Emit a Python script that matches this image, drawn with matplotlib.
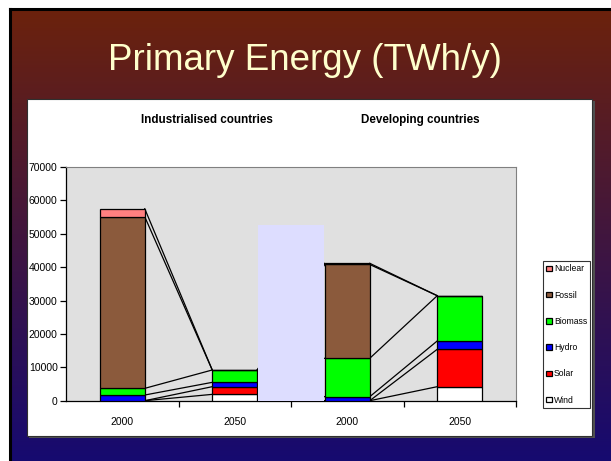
import numpy as np
import matplotlib.pyplot as plt
from matplotlib.patches import Rectangle
from matplotlib.lines import Line2D

plt.rcParams['font.family'] = ['Liberation Sans Narrow', 'Liberation Sans', 'DejaVu Sans']

years = ['2000', '2050', '2000', '2050']
sources = ['Wind', 'Solar', 'Hydro', 'Biomass', 'Fossil', 'Nuclear']
colors = ['#FFFFFF', '#FF0000', '#0000FF', '#00FF00', '#8B5A3C', '#FF8080']

# TWh/y per source, bottom to top; columns follow `years`
wind = [0, 1900, 0, 4200]
solar = [0, 2300, 0, 11200]
hydro = [1700, 1300, 1200, 2500]
biomass = [2000, 3700, 11500, 13550]
fossil = [51400, 0, 28100, 0]
nuclear = [2400, 0, 350, 0]
separator = 52700

W, H = 611, 461
fig = plt.figure(figsize=(W / 100, H / 100), dpi=100, facecolor='white')

# slide background gradient
bg = fig.add_axes([9 / W, 0, 1 - 9 / W, 1 - 9 / H], zorder=-5)
top = np.array([108, 34, 12]) / 255
bot = np.array([22, 10, 112]) / 255
t = np.linspace(0, 1, 256)[:, None]
grad = (top * (1 - t) + bot * t)[:, None, :]
bg.imshow(grad, aspect='auto', extent=[0, 1, 0, 1])
bg.axis('off')
fig.add_artist(Line2D([9.5 / W, 9.5 / W], [0, 1 - 9.5 / H], color='black', lw=2.2, zorder=-4))
fig.add_artist(Line2D([9.5 / W, 1], [1 - 9.5 / H, 1 - 9.5 / H], color='black', lw=2.2, zorder=-4))

fig.text(305 / W, 1 - 61 / H, 'Primary Energy (TWh/y)', ha='center', va='center',
         fontsize=26.5, color='#FFFFCC', family=['Liberation Sans', 'DejaVu Sans'])

# white chart panel with shadow
fig.add_artist(Rectangle((29 / W, (H - 438) / H), 566 / W, 337 / H, zorder=-3,
                         transform=fig.transFigure, facecolor='#505050', edgecolor='none'))
fig.add_artist(Rectangle((27 / W, (H - 436) / H), 565 / W, 337 / H, zorder=-2,
                         transform=fig.transFigure, facecolor='white', edgecolor='#303030', lw=0.8))

fig.text(207 / W, 1 - 120 / H, 'Industrialised countries', ha='center', va='center',
         fontsize=8.4, fontweight='bold')
fig.text(420 / W, 1 - 120 / H, 'Developing countries', ha='center', va='center',
         fontsize=8.4, fontweight='bold')

ax = fig.add_axes([66 / W, 60.3 / H, 450 / W, 233.7 / H])
ax.set_facecolor('#E0E0E0')
x = np.arange(len(years))
width = 0.4

data = np.array([wind, solar, hydro, biomass, fossil, nuclear])
bottoms = np.vstack([np.zeros(len(years)), data.cumsum(axis=0)[:-1]])
tops = data.cumsum(axis=0)

handles = []
for name, vals, b, c in zip(sources, data, bottoms, colors):
    h = ax.bar(x, vals, width, bottom=b, color=c, edgecolor='black', lw=0.9,
               label=name, zorder=3)
    handles.append(h)

# series lines between adjacent bars
for level in tops:
    for i in range(len(years) - 1):
        ax.plot([x[i] + width / 2, x[i + 1] - width / 2], [level[i], level[i + 1]],
                color='black', lw=0.9, zorder=2)

ax.bar(1.5, separator, 0.58, color='#DDDDFF', edgecolor='none', zorder=4)

ax.set_xlim(-0.5, 3.5)
ax.set_ylim(0, 70000)
ax.set_yticks(np.arange(0, 70001, 10000))
ax.set_xticks(x)
ax.set_xticklabels(years)
ax.set_xticks([0.5, 1.5, 2.5, 3.5], minor=True)
ax.tick_params(axis='x', which='major', length=0, pad=12, labelsize=7.5)
ax.tick_params(axis='x', which='minor', length=4, direction='out', width=0.9)
ax.tick_params(axis='y', length=4, direction='out', width=0.9, labelsize=7.5, pad=2)
for s in ['top', 'right']:
    ax.spines[s].set_color('#808080')
    ax.spines[s].set_linewidth(0.8)
for s in ['left', 'bottom']:
    ax.spines[s].set_color('black')
    ax.spines[s].set_linewidth(0.9)

leg = ax.legend(handles[::-1], sources[::-1], loc='upper left',
                bbox_to_anchor=(543 / W, 1 - 261 / H), bbox_transform=fig.transFigure,
                fontsize=6.2, handlelength=0.6, handleheight=0.6, handletextpad=0.25,
                labelspacing=2.0, borderpad=0.4, fancybox=False, frameon=True,
                borderaxespad=0)
leg.get_frame().set_edgecolor('black')
leg.get_frame().set_linewidth(0.8)

fig.savefig('out.png', dpi=100, facecolor=fig.get_facecolor())
